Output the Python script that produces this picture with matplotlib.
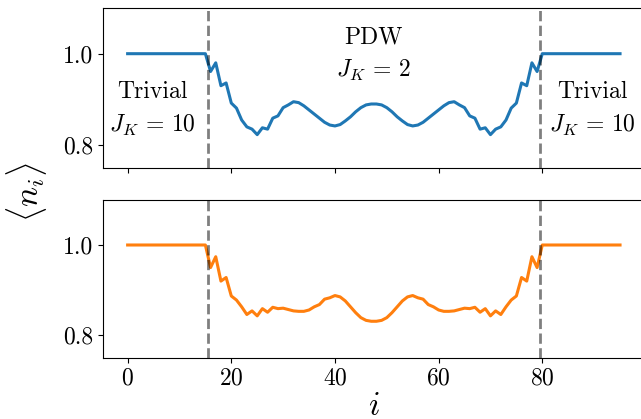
import matplotlib
matplotlib.use("Agg")
from matplotlib import pyplot as plt

# Data: site density <n_i> along the chain
sites = list(range(96))

density_top = [1.0] * 16 + [
    0.961, 0.980, 0.930, 0.936, 0.892, 0.881, 0.855, 0.840,
    0.835, 0.823, 0.838, 0.835, 0.859, 0.864, 0.882, 0.888,
    0.895, 0.893, 0.886, 0.877, 0.868, 0.859, 0.850, 0.844,
    0.842, 0.845, 0.853, 0.862, 0.873, 0.882, 0.888, 0.890,
    0.890, 0.888, 0.882, 0.873, 0.862, 0.853, 0.845, 0.842,
    0.844, 0.850, 0.859, 0.868, 0.877, 0.886, 0.893, 0.895,
    0.888, 0.882, 0.864, 0.859, 0.835, 0.838, 0.823, 0.835,
    0.840, 0.855, 0.881, 0.892, 0.936, 0.930, 0.980, 0.961,
] + [1.0] * 16

density_bottom = [1.0] * 16 + [
    0.950, 0.974, 0.920, 0.928, 0.887, 0.878, 0.863, 0.846,
    0.854, 0.843, 0.859, 0.851, 0.862, 0.859, 0.860, 0.857,
    0.854, 0.853, 0.853, 0.856, 0.863, 0.868, 0.880, 0.883,
    0.888, 0.885, 0.876, 0.863, 0.850, 0.839, 0.833, 0.831,
    0.831, 0.833, 0.839, 0.850, 0.863, 0.876, 0.885, 0.888,
    0.883, 0.880, 0.868, 0.863, 0.856, 0.853, 0.853, 0.854,
    0.857, 0.860, 0.859, 0.862, 0.851, 0.859, 0.843, 0.854,
    0.846, 0.863, 0.878, 0.887, 0.928, 0.920, 0.974, 0.950,
] + [1.0] * 16

# Domain walls between trivial and PDW regions
boundaries = [15.5, 79.5]

plt.rcParams["font.family"] = "serif"
plt.rcParams["font.serif"] = ["cmr10"]
plt.rcParams["mathtext.fontset"] = "cm"
plt.rcParams["axes.formatter.use_mathtext"] = True

fig = plt.figure(figsize=(6.41, 4.19), dpi=100)
ax1 = fig.add_axes([0.1607, 0.599, 0.845, 0.382])
ax2 = fig.add_axes([0.1607, 0.146, 0.845, 0.377], sharex=ax1)

ax1.plot(sites, density_top, color="#1f77b4", linewidth=2.2)
ax2.plot(sites, density_bottom, color="#ff7f0e", linewidth=2.2)

for ax in (ax1, ax2):
    for b in boundaries:
        ax.axvline(b, color="k", alpha=0.5, linestyle="--", linewidth=2)
    ax.set_ylim(0.75, 1.1)
    ax.set_yticks([0.8, 1.0])
    ax.set_yticklabels(["0.8", "1.0"])
    ax.tick_params(labelsize=17)

ax1.tick_params(labelbottom=False)
ax2.set_xticks([0, 20, 40, 60, 80])
ax2.set_xlabel(r"$i$", fontsize=24, labelpad=2)

# Phase labels
ax1.text(4.8, 0.878, "Trivial\n" + r"$J_K\,=\,10$", fontsize=17, ha="center", va="center", linespacing=1.5)
ax1.text(47.4, 0.998, "PDW\n" + r"$J_K\,=\,2$", fontsize=17, ha="center", va="center", linespacing=1.5)
ax1.text(89.6, 0.878, "Trivial\n" + r"$J_K\,=\,10$", fontsize=17, ha="center", va="center", linespacing=1.5)

fig.text(0.042, 0.542, r"$\langle n_i \rangle$", fontsize=24, rotation=90, ha="center", va="center")

fig.savefig("out.png", dpi=100)
